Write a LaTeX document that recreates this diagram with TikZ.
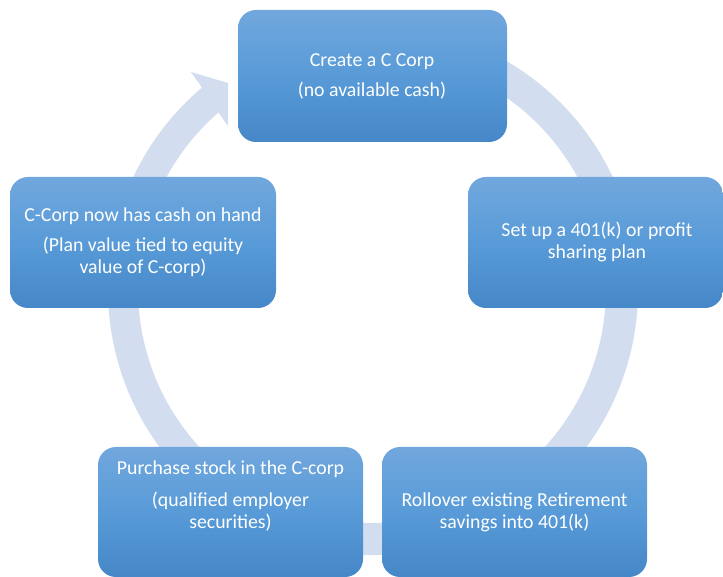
\documentclass[tikz,border=0pt]{standalone}
\usepackage{fontspec}
\setmainfont{Carlito}
\definecolor{ringc}{RGB}{210,222,239}
\definecolor{boxtop}{RGB}{113,167,221}
\definecolor{boxmid}{RGB}{88,155,216}
\definecolor{boxbot}{RGB}{70,135,199}
\tikzset{
  cbox/.style={rounded corners=18pt, draw=none, inner sep=0pt,
    top color=boxtop, bottom color=boxbot, middle color=boxmid},
  ctext/.style={anchor=base, inner sep=0pt, text=white,
    font=\fontsize{19.8pt}{22pt}\selectfont}
}
\begin{document}
\begin{tikzpicture}[x=1pt,y=1pt]
\useasboundingbox (0,0) rectangle (723,576);
\clip (0,0) rectangle (723,576);
% ring with arrow head
\coordinate (ctr) at (373,286);
\fill[ringc] (ctr) ++(100:265) arc[start angle=100, end angle=-229.8, radius=265]
  -- (191,504) -- (228,493) -- (228,450) -- (218.5,463.5)
  arc[start angle=-229, end angle=100, radius=234] -- cycle;
% boxes
\node[cbox, minimum width=269pt, minimum height=132pt] (create) at (372.5,500) {};
\node[cbox, minimum width=255pt, minimum height=131pt] (setup) at (595.5,333.5) {};
\node[cbox, minimum width=265pt, minimum height=130pt] (rollover) at (514.5,64) {};
\node[cbox, minimum width=265pt, minimum height=130pt] (purchase) at (230.5,64) {};
\node[cbox, minimum width=266pt, minimum height=131pt] (cash) at (143,333.5) {};
% texts
\node[ctext] (create1) at (372,509) {Create a C Corp};
\node[ctext] (create2) at (372,479) {(no available cash)};
\node[ctext] (setup1) at (597,339) {Set up a 401(k) or profit};
\node[ctext] (setup2) at (597,317) {sharing plan};
\node[ctext] (roll1) at (514.5,70) {Rollover existing Retirement};
\node[ctext] (roll2) at (514.5,48) {savings into 401(k)};
\node[ctext] (purch1) at (230.5,101) {Purchase stock in the C-corp};
\node[ctext] (purch2) at (230.5,70) {(qualified employer};
\node[ctext] (purch3) at (230.5,48) {securities)};
\node[ctext] (cash1) at (143,354) {C-Corp now has cash on hand};
\node[ctext] (cash2) at (143,324) {(Plan value tied to equity};
\node[ctext] (cash3) at (143,302) {value of C-corp)};
\end{tikzpicture}
\end{document}
